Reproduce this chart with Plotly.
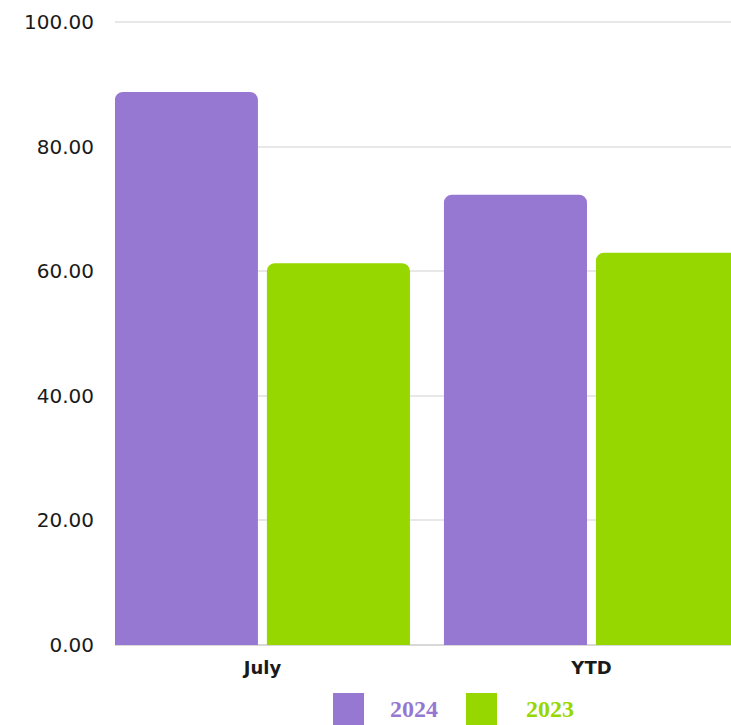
import plotly.graph_objects as go

categories = ["July", "YTD"]
series_names = ["2024", "2023"]
values_2024 = [88.8, 72.3]
values_2023 = [61.3, 63.0]
y_ticks = [0, 20, 40, 60, 80, 100]

colors = {"2024": "#9678D3", "2023": "#97D700"}

fig = go.Figure()
fig.add_trace(go.Bar(x=categories, y=values_2024, name="2024",
                     marker=dict(color=colors["2024"], line=dict(width=0))))
fig.add_trace(go.Bar(x=categories, y=values_2023, name="2023",
                     marker=dict(color=colors["2023"], line=dict(width=0))))

W, H = 731, 725
L, R, T, B = 115, 0, 21, 80
pw, ph = W - L - R, H - T - B

def px_x(p):
    return (p - L) / pw

def px_y(p):
    return (H - B - p) / ph

shapes = []
annotations = []
legend_items = [("2024", 333, 388), ("2023", 466, 524)]
for name, sq_x, tx in legend_items:
    shapes.append(dict(type="rect", xref="paper", yref="paper",
                       x0=px_x(sq_x), x1=px_x(sq_x + 31),
                       y0=px_y(730), y1=px_y(693),
                       fillcolor=colors[name], line=dict(width=0), layer="above"))
    annotations.append(dict(text="<b>%s</b>" % name, xref="paper", yref="paper",
                            x=px_x(tx), y=px_y(709), xanchor="left", yanchor="middle",
                            showarrow=False,
                            font=dict(family="Liberation Serif", size=24, color=colors[name])))

fig.update_layout(
    width=W, height=H,
    margin=dict(l=L, r=R, t=T, b=B, pad=0),
    paper_bgcolor="white", plot_bgcolor="white",
    barmode="group", bargap=0.076, bargroupgap=0.059,
    barcornerradius=8,
    showlegend=False,
    shapes=shapes, annotations=annotations,
    xaxis=dict(range=[-0.448, 1.424], showgrid=False, showline=False, zeroline=False,
               ticks="", ticklabelstandoff=10,
               tickfont=dict(family="DejaVu Sans", size=18, color="#1a1a1a", weight="bold")),
    yaxis=dict(range=[0, 100.2], tickvals=y_ticks, tickformat=".2f",
               showgrid=True, gridcolor="#e8e8e8", gridwidth=2,
               zeroline=True, zerolinecolor="#d8d8d8", zerolinewidth=2,
               showline=False, ticks="", ticklabelstandoff=20,
               tickfont=dict(family="DejaVu Sans", size=20, color="#1a1a1a", weight=500)),
)

fig.write_html("out.html",
               config={"displayModeBar": False},
               post_script="document.body.style.margin='0';document.body.style.overflow='hidden';")
